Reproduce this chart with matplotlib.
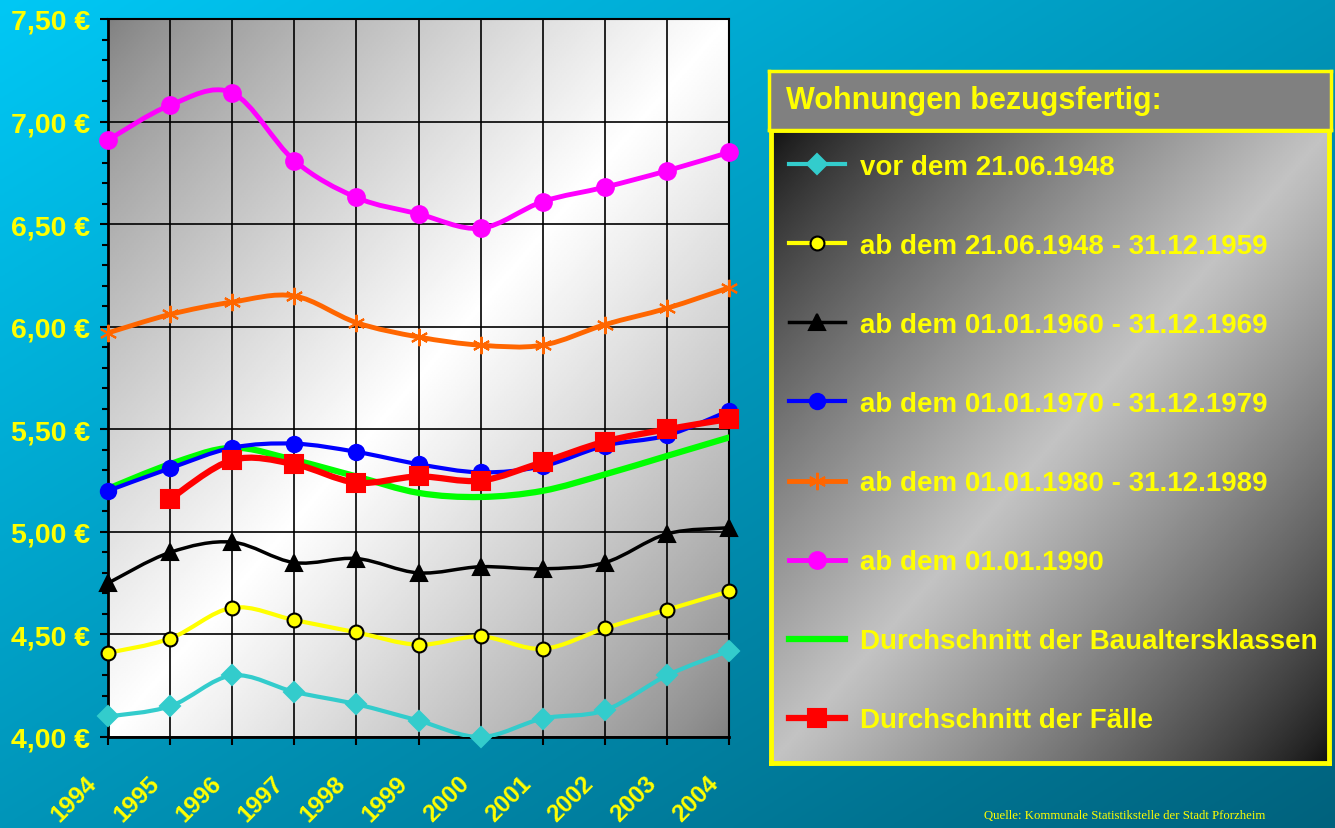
import numpy as np
import matplotlib
matplotlib.use('Agg')
import matplotlib.pyplot as plt
from matplotlib.path import Path
from matplotlib.patches import PathPatch
from matplotlib.lines import Line2D

plt.rcParams['font.family'] = ['Liberation Sans', 'DejaVu Sans']

# ---- Daten (Miete in EUR je qm) ----
years = list(range(1994, 2005))
vor_1948 = [4.10, 4.15, 4.30, 4.22, 4.16, 4.08, 4.00, 4.09, 4.13, 4.30, 4.42]
bis_1959 = [4.41, 4.48, 4.63, 4.57, 4.51, 4.45, 4.49, 4.43, 4.53, 4.62, 4.71]
bis_1969 = [4.75, 4.90, 4.95, 4.85, 4.87, 4.80, 4.83, 4.82, 4.85, 4.99, 5.02]
bis_1979 = [5.20, 5.31, 5.41, 5.43, 5.39, 5.33, 5.29, 5.32, 5.42, 5.47, 5.59]
bis_1989 = [5.97, 6.06, 6.12, 6.15, 6.02, 5.95, 5.91, 5.91, 6.01, 6.09, 6.19]
ab_1990 = [6.91, 7.08, 7.14, 6.81, 6.63, 6.55, 6.48, 6.61, 6.68, 6.76, 6.85]
avg_klassen = [5.21, 5.33, 5.41, 5.35, 5.27, 5.19, 5.17, 5.20, 5.28, 5.37, 5.46]
faelle_years = years[1:]
avg_faelle = [5.16, 5.35, 5.33, 5.24, 5.27, 5.25, 5.34, 5.44, 5.50, 5.55]

YELLOW = '#FFFF00'
W, H = 1335, 829


def smooth_path(x, y):
    # geglaettete Linie wie in Excel (Bezier durch die Punkte)
    pts = np.column_stack([x, y]).astype(float)
    n = len(pts)
    verts = [pts[0]]
    codes = [Path.MOVETO]
    for i in range(n - 1):
        p0 = pts[max(i - 1, 0)]
        p1 = pts[i]
        p2 = pts[i + 1]
        p3 = pts[min(i + 2, n - 1)]
        verts += [p1 + (p2 - p0) / 6, p2 - (p3 - p1) / 6, p2]
        codes += [Path.CURVE4] * 3
    return Path(verts, codes)


def diag_gradient(lo, hi, n=300):
    u, v = np.meshgrid(np.linspace(0, 1, n), np.linspace(0, 1, n))
    t = (u + v) / 2
    g = 1 - np.abs(2 * t - 1)
    g = g ** 0.8
    return lo + (hi - lo) * g


fig = plt.figure(figsize=(W / 100, H / 100), dpi=100)

# Hintergrund (tuerkis Verlauf)
bg = fig.add_axes([0, 0, 1, 1], zorder=-10)
u, v = np.meshgrid(np.linspace(0, 1, 300), np.linspace(0, 1, 300))
t = ((u + v) / 2)[..., None]
c0 = np.array([0, 200, 245]) / 255
c1 = np.array([0, 98, 125]) / 255
bg.imshow(c0 + (c1 - c0) * t, extent=[0, 1, 0, 1], aspect='auto', origin='upper')
bg.axis('off')

# Diagramm
ax = fig.add_axes([108 / W, 1 - 738 / H, (729 - 108) / W, (738 - 20) / H])
ax.set_xlim(1994, 2004)
ax.set_ylim(4.0, 7.5)
ax.set_facecolor('none')
ax.imshow(diag_gradient(128, 255), cmap='gray', vmin=0, vmax=255,
          extent=[1994, 2004, 4.0, 7.5], aspect='auto', origin='upper', zorder=0)

ax.set_xticks(years)
ax.set_xticklabels([])
ax.set_yticks(np.arange(4.0, 7.51, 0.5))
ax.set_yticks(np.arange(4.0, 7.51, 0.1), minor=True)
ax.grid(True, which='major', color='black', linewidth=1.2, zorder=1)
ax.set_axisbelow(False)
ax.set_yticklabels([f'{v:.2f} €'.replace('.', ',') for v in np.arange(4.0, 7.51, 0.5)])
ax.tick_params(axis='both', which='major', direction='out', length=6, width=1.5,
               colors='black', labelcolor=YELLOW, labelsize=20.5)
ax.tick_params(axis='y', which='minor', direction='out', length=4, width=1.5)
ax.tick_params(axis='y', which='major', pad=7)
for lab in ax.get_yticklabels():
    lab.set_fontweight('bold')
# Jahreszahlen schraeg unter den Ticks
for yr in years:
    ax.annotate(str(yr), xy=(yr, 0), xycoords=('data', 'axes fraction'),
                xytext=(-7.2, -33.8), textcoords='offset points',
                rotation=45, rotation_mode='anchor', ha='right', va='baseline',
                color=YELLOW, fontsize=17.5, fontweight='bold', annotation_clip=False)
for s in ax.spines.values():
    s.set_color('black')
    s.set_linewidth(1.5)
ax.spines['left'].set_linewidth(2)
ax.spines['bottom'].set_linewidth(2)

series = [
    # label, x, y, farbe, marker, markergroesse, fuellung, rand, linienbreite
    ('Durchschnitt der Baualtersklassen', years, avg_klassen,
     '#00FF00', 'None', 0, '#00FF00', '#00FF00', 4.5),
    ('vor dem 21.06.1948', years, vor_1948,
     '#33CCCC', 'D', 10, '#33CCCC', '#33CCCC', 3),
    ('ab dem 21.06.1948 - 31.12.1959', years, bis_1959,
     '#FFFF00', 'o', 10, '#FFFF00', 'black', 3),
    ('ab dem 01.01.1960 - 31.12.1969', years, bis_1969,
     'black', '^', 11, 'black', 'black', 2.5),
    ('ab dem 01.01.1970 - 31.12.1979', years, bis_1979,
     '#0000FF', 'o', 11, '#0000FF', '#0000FF', 3),
    ('ab dem 01.01.1980 - 31.12.1989', years, bis_1989,
     '#FF6600', (6, 2, 0), 12.5, '#FF6600', '#FF6600', 3.5),
    ('ab dem 01.01.1990', years, ab_1990,
     '#FF00FF', 'o', 12, '#FF00FF', '#FF00FF', 3.5),
    ('Durchschnitt der Fälle', faelle_years, avg_faelle,
     '#FF0000', 's', 13, '#FF0000', '#FF0000', 4.5),
]
legend_order = [1, 2, 3, 4, 5, 6, 0, 7]

handles = []
for i, (lab, xs, ys, col, mk, ms, mfc, mec, lw) in enumerate(series):
    z = 3 + i
    ax.add_patch(PathPatch(smooth_path(xs, ys), fill=False, edgecolor=col,
                           linewidth=lw, capstyle='round', joinstyle='round', zorder=z))
    if mk != 'None':
        ax.plot(xs, ys, linestyle='none', marker=mk, markersize=ms,
                markerfacecolor=mfc, markeredgecolor=mec,
                markeredgewidth=1.5, clip_on=False, zorder=z + 0.5)
    handles.append(Line2D([], [], color=col, linewidth=lw, marker=mk,
                          markersize=ms, markerfacecolor=mfc, markeredgecolor=mec,
                          markeredgewidth=1.5, label=lab))

# Legende: Kasten mit Verlauf
leg_ax = fig.add_axes([771 / W, 1 - 764 / H, (1329 - 771) / W, (764 - 131) / H])
leg_ax.imshow(diag_gradient(17, 195), cmap='gray', vmin=0, vmax=255,
              extent=[0, 1, 0, 1], aspect='auto', origin='upper')
leg_ax.set_xticks([])
leg_ax.set_yticks([])
for s in leg_ax.spines.values():
    s.set_color(YELLOW)
    s.set_linewidth(3.5)

title_ax = fig.add_axes([769 / W, 1 - 131 / H, (1331 - 769) / W, (131 - 72) / H])
title_ax.set_facecolor('#808080')
title_ax.set_xticks([])
title_ax.set_yticks([])
for s in title_ax.spines.values():
    s.set_color(YELLOW)
    s.set_linewidth(2.5)
title_ax.text(17 / 562, 0.5, 'Wohnungen bezugsfertig:', transform=title_ax.transAxes,
              ha='left', va='center', color=YELLOW, fontsize=22, fontweight='bold')

leg = fig.legend([handles[i] for i in legend_order],
                 [series[i][0] for i in legend_order],
                 loc='upper left', bbox_to_anchor=(789 / W, 1 - 155 / H),
                 frameon=False, borderaxespad=0, borderpad=0,
                 handlelength=2.0, handletextpad=0.55, labelspacing=1.91,
                 prop={'size': 20, 'weight': 'bold'})
for txt in leg.get_texts():
    txt.set_color(YELLOW)

fig.text(1265 / W, 1 - 816 / H, 'Quelle: Kommunale Statistikstelle der Stadt Pforzheim',
         ha='right', va='center', color=YELLOW, fontsize=9.2,
         family=['Liberation Serif', 'DejaVu Serif'])

fig.savefig('out.png', dpi=100)
